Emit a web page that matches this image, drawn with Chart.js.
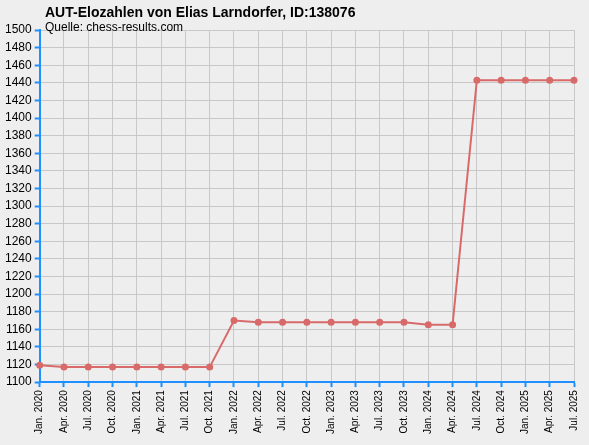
<!DOCTYPE html><html><head><script src="https://cdn.jsdelivr.net/npm/chart.js@4"></script>
<style>html,body{margin:0;padding:0;background:#eeeeee}</style></head><body>
<div style="width:589px;height:445px"><canvas id="c"></canvas></div>
<script>
const labels=["Jan. 2020","Apr. 2020","Jul. 2020","Oct. 2020","Jan. 2021","Apr. 2021","Jul. 2021","Oct. 2021","Jan. 2022","Apr. 2022","Jul. 2022","Oct. 2022","Jan. 2023","Apr. 2023","Jul. 2023","Oct. 2023","Jan. 2024","Apr. 2024","Jul. 2024","Oct. 2024","Jan. 2025","Apr. 2025","Jul. 2025"];
const elo=[1119,1117,1117,1117,1117,1117,1117,1117,1170,1168,1168,1168,1168,1168,1168,1168,1165,1165,1443,1443,1443,1443,1443];
const titleText='AUT-Elozahlen von Elias Larndorfer, ID:138076';
const subText='Quelle: chess-results.com';
const blue='#1e90ff';
const titles={id:'titles',afterDraw(ch){const c=ch.ctx;c.save();c.fillStyle='#000';c.textBaseline='alphabetic';
c.font='bold 14px "Liberation Sans"';c.fillText(titleText,45,17);
c.font='12px "Liberation Sans"';c.fillText(subText,45,31);c.restore();}};
new Chart(document.getElementById('c'),{type:'line',
data:{labels,datasets:[{data:elo,borderColor:'#d86a6a',backgroundColor:'#d86a6a',borderWidth:2,pointRadius:2.5,tension:0}]},
options:{responsive:true,maintainAspectRatio:false,animation:false,
layout:{padding:{left:2,right:0,top:30,bottom:8}},
plugins:{legend:{display:false},tooltip:{enabled:false}},
scales:{
x:{offset:false,grid:{color:'#c8c8c8',tickColor:blue,tickLength:5,tickWidth:2},border:{color:blue,width:2},
ticks:{color:'#000',font:{family:'Liberation Sans',size:10},maxRotation:90,minRotation:90,autoSkip:false}},
y:{min:1100,max:1500,grid:{color:'#c8c8c8',tickColor:blue,tickLength:5,tickWidth:2},border:{color:blue,width:2},
ticks:{stepSize:20,color:'#000',font:{family:'Liberation Sans',size:12},callback:v=>String(v)}}}},
plugins:[titles]});
</script></body></html>
